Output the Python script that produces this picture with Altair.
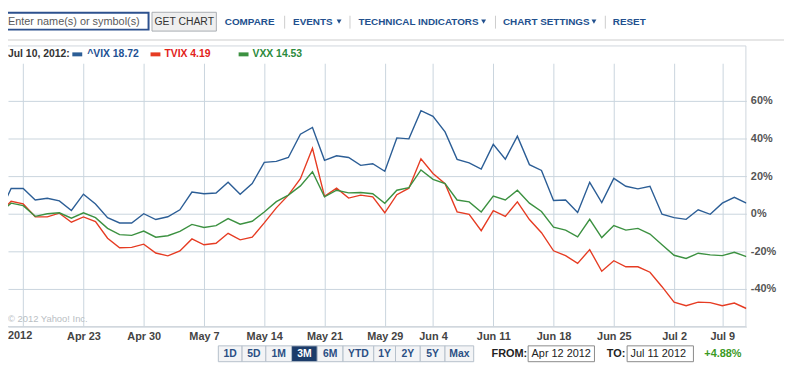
import altair as alt
import pandas as pd

# ---------------- data ----------------
series_names = ["^VIX", "TVIX", "VXX"]
series_colors = ["#2c5e96", "#e63c23", "#3c9141"]

# trading-day index 0 = Apr 12 2012 ... 62 = Jul 11 2012 ; values = % change
vix = [0, 13.4, 13.4, 7.3, 8.2, 6.8, 1.7, 10.4, 5.2, -2.1, -4.9,
       -4.9, 0, -3.1, -1.6, 2.1, 11.5, 10.6, 11.0, 16.7, 10.3, 16.0,
       27.3, 27.8, 29.9, 42.3, 45.9, 28.4, 30.8, 29.9, 25.7, 26.6,
       22.6, 40.3, 39.8, 54.8, 51.8, 43.5, 28.9, 27.0, 23.7, 36.9,
       29.0, 41.2, 26.1, 23.0, 7.0, 7.3, 0.7, 16.7, 5.9, 18.8,
       14.6, 13.2, 14.6, -0.3, -2.1, -3.0, 2.1, -0.3, 5.6, 8.7, 5.6]
tvix = [0, 6.6, 5.2, -1.6, -1.7, 0.3, -4.5, -1.7, -4.2, -13.0, -18.1,
        -17.9, -16.2, -20.9, -22.4, -19.8, -13.4, -16.5, -15.7, -10.4, -13.9, -12.5,
        -4.9, 3.1, 9.9, 18.6, 34.8, 9.2, 13.6, 8.3, 9.9, 9.0,
        0.5, 10.1, 13.6, 29.2, 21.4, 16.0, 1.0, -0.3, -9.0, 1.6,
        -1.4, 6.3, -3.1, -10.1, -19.7, -22.3, -26.4, -19.1, -30.6, -25.0,
        -28.2, -28.2, -31.1, -38.8, -47.0, -48.9, -47.0, -47.3, -48.9, -47.5, -50.4]
vxx = [0, 5.6, 4.3, -1.4, 0, 0.5, -2.4, 0.5, -2.1, -7.8, -11.1,
       -11.5, -9.2, -12.5, -11.7, -9.4, -5.7, -7.3, -6.3, -2.6, -5.6, -4.0,
       0.9, 6.4, 9.9, 14.8, 22.3, 9.0, 12.5, 11.1, 11.3, 10.6,
       5.6, 12.5, 13.9, 23.3, 18.3, 16.0, 7.3, 6.3, 0.9, 9.4,
       7.3, 12.5, 5.6, 1.2, -7.1, -8.7, -12.3, -3.0, -12.7, -6.3,
       -8.7, -7.8, -10.8, -16.5, -22.1, -23.8, -21.0, -21.9, -22.3, -20.5, -22.8]

tick_idx = [2, 7, 12, 17, 22, 27, 32, 36, 41, 46, 51, 56, 60]
tick_labels = ["", "Apr 23", "Apr 30", "May 7", "May 14", "May 21", "May 29",
               "Jun 4", "Jun 11", "Jun 18", "Jun 25", "Jul 2", "Jul 9"]
y_ticks = [-40, -20, 0, 20, 40, 60]

legend_date = "Jul 10, 2012:"
legend_values = ["18.72", "4.19", "14.53"]
range_buttons = ["1D", "5D", "1M", "3M", "6M", "YTD", "1Y", "2Y", "5Y", "Max"]
selected_range = "3M"
from_date = "Apr 12 2012"
to_date = "Jul 11 2012"
change_text = "+4.88%"

rows = []
for name, vals in zip(series_names, [vix, tvix, vxx]):
    for i, v in enumerate(vals):
        rows.append({"i": i, "v": v, "s": name})
df = pd.DataFrame(rows)

FONT = "Liberation Sans"
GRID = "#c9d4de"
one = pd.DataFrame({"k": [0]})


def txt(s, x, y, size=11, color="#333", weight="normal", align="left"):
    return alt.Chart(one).mark_text(
        text=s, align=align, baseline="middle", fontSize=size, color=color,
        fontWeight=weight, font=FONT
    ).encode(x=alt.value(x), y=alt.value(y))


def box(x1, x2, y1, y2, fill, stroke, sw=1):
    return alt.Chart(one).mark_rect(fill=fill, stroke=stroke, strokeWidth=sw).encode(
        x=alt.value(x1), x2=alt.value(x2), y=alt.value(y1), y2=alt.value(y2))


def vrule(x, y1, y2, color):
    return alt.Chart(one).mark_rule(color=color, strokeWidth=1).encode(
        x=alt.value(x), y=alt.value(y1), y2=alt.value(y2))


def arrow(x, y, color):
    return alt.Chart(one).mark_point(shape="triangle-down", filled=True, size=24,
                                     color=color, opacity=1).encode(
        x=alt.value(x), y=alt.value(y))


label_expr = " : ".join(
    [f"datum.value == {i} ? '{l}'" for i, l in zip(tick_idx, tick_labels)]) + " : ''"

frame = box(-1.5, 745.5, -17.5, 266, "transparent", "#cfd6dd")

lines = alt.Chart(df).mark_line(strokeWidth=1.4, clip=True).encode(
    x=alt.X("i:Q", scale=alt.Scale(domain=[0.74, 62], nice=False, zero=False),
            axis=alt.Axis(values=tick_idx, grid=True, gridColor=GRID, ticks=False,
                          domain=True, domainColor="#c3ccd4", labelExpr=label_expr,
                          labelFont=FONT, labelFontSize=11, labelFontWeight="bold",
                          labelColor="#444", labelPadding=4, labelOverlap=False,
                          labelFlush=False, title=None)),
    y=alt.Y("v:Q", scale=alt.Scale(domain=[-60, 80], nice=False, zero=False),
            axis=alt.Axis(orient="right", values=y_ticks, grid=True, gridColor=GRID,
                          ticks=False, domain=False, labelExpr="datum.value + '%'",
                          labelFont=FONT, labelFontSize=11, labelFontWeight="bold",
                          labelColor="#555", labelPadding=4, title=None)),
    color=alt.Color("s:N", scale=alt.Scale(domain=series_names, range=series_colors),
                    legend=None),
)

layers = [frame, lines]

# first axis label and copyright
layers.append(txt("2012", 0, 275.5, size=11, color="#444", weight="bold"))
layers.append(txt("\u00a9 2012 Yahoo! Inc.", 0, 258, size=9.5, color="#b9bec3"))

# ---------- toolbar ----------
TB_Y = -42
layers.append(box(-7, 142, -51, -34, "#ffffff", "#2d518e", 2))
layers.append(txt("Enter name(s) or symbol(s)", 0, TB_Y, size=11, color="#5a5a5a"))
layers.append(box(145.5, 210.5, -51.5, -32.5, "#efefef", "#a9adb2"))
layers.append(txt("GET CHART", 178, TB_Y, size=10.5, color="#333", align="center"))
LINK = "#22508e"
LS = 10
layers.append(txt("COMPARE", 219, TB_Y, size=LS, color=LINK, weight="bold"))
layers.append(vrule(279.5, -48, -35, "#cccccc"))
layers.append(txt("EVENTS", 288, TB_Y, size=LS, color=LINK, weight="bold"))
layers.append(arrow(334.5, TB_Y, LINK))
layers.append(vrule(345.5, -48, -35, "#cccccc"))
layers.append(txt("TECHNICAL INDICATORS", 354, TB_Y, size=LS, color=LINK, weight="bold"))
layers.append(arrow(480.5, TB_Y, LINK))
layers.append(vrule(492.5, -48, -35, "#cccccc"))
layers.append(txt("CHART SETTINGS", 500, TB_Y, size=LS, color=LINK, weight="bold"))
layers.append(arrow(592, TB_Y, LINK))
layers.append(vrule(603.5, -48, -35, "#cccccc"))
layers.append(txt("RESET", 611, TB_Y, size=LS, color=LINK, weight="bold"))
layers.append(alt.Chart(one).mark_rule(color="#cccccc").encode(
    x=alt.value(0), x2=alt.value(784), y=alt.value(-23.5)))

# ---------- legend row ----------
LG_Y = -9
legend_text_colors = ["#1e5193", "#e2231a", "#2c8a3c"]
layers.append(txt(legend_date, 0, LG_Y, size=10.5, color="#333", weight="bold"))
sw_x = [65, 144, 233]
tx_x = [80, 158, 247]
for name, val, sc, tc, sx, tx in zip(series_names, legend_values, series_colors,
                                     legend_text_colors, sw_x, tx_x):
    layers.append(box(sx, sx + 10, LG_Y - 2, LG_Y + 2, sc, sc, 0))
    layers.append(txt(f"{name} {val}", tx, LG_Y, size=10.5, color=tc, weight="bold"))

# ---------- bottom controls ----------
BY1, BY2 = 285.5, 301.5
edges = [212.5, 236.5, 260.5, 286.5, 312.5, 338.5, 369.5, 391.5, 416.5, 441.5, 470.5]
for k, lab in enumerate(range_buttons):
    sel = lab == selected_range
    layers.append(box(edges[k], edges[k + 1], BY1, BY2,
                      "#1c3c6a" if sel else "#f3f4f6", "#b5bfca"))
    layers.append(txt(lab, (edges[k] + edges[k + 1]) / 2, 293.5, size=10.5,
                      color="#ffffff" if sel else "#2b4f84", weight="bold", align="center"))
layers.append(txt("FROM:", 488.5, 293.5, size=11, color="#222", weight="bold"))
layers.append(box(525.5, 592.5, BY1, BY2, "#ffffff", "#8a8a8a"))
layers.append(txt(from_date, 529, 293.5, size=11, color="#222"))
layers.append(txt("TO:", 605, 293.5, size=11, color="#222", weight="bold"))
layers.append(box(625.5, 692.5, BY1, BY2, "#ffffff", "#8a8a8a"))
layers.append(txt(to_date, 629, 293.5, size=11, color="#222"))
layers.append(txt(change_text, 703.5, 293.5, size=11, color="#3c9a1f", weight="bold"))

chart = alt.layer(*layers).properties(
    width=746, height=266,
    autosize=alt.AutoSizeParams(type="none"),
    padding={"left": 0, "top": 54, "right": 38, "bottom": 37},
    background="#ffffff",
).configure_view(stroke=None)

chart.save("out.html", embed_options={"renderer": "svg", "actions": False})
